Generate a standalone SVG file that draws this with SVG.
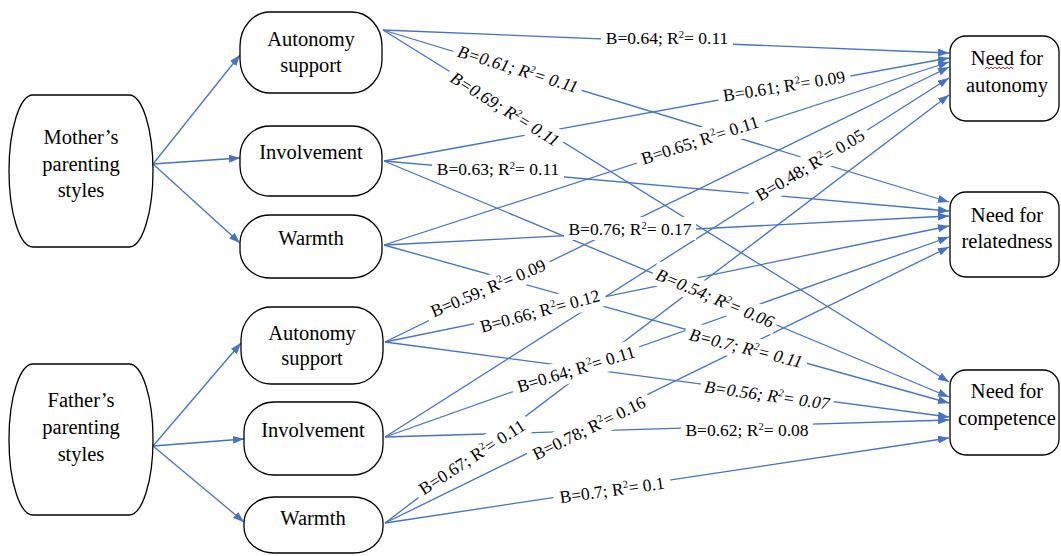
<svg xmlns="http://www.w3.org/2000/svg" width="1061" height="556" viewBox="0 0 1061 556">
<style>
.n{fill:#fff;stroke:#000;stroke-width:1.3}
.t{font-family:"Liberation Serif","Times New Roman",serif;font-size:20.5px;text-anchor:middle;fill:#000}
.c line{stroke:#4472C4;stroke-width:1.3;marker-end:url(#ah)}
.lb rect{fill:#fff}
.lb text{font-family:"Liberation Serif","Times New Roman",serif;font-size:17.5px;text-anchor:middle;fill:#000}
.lb text.it{font-style:italic}
.sq{fill:none;stroke:#e02020;stroke-width:1}
</style>
<defs>
<marker id="ah" markerUnits="userSpaceOnUse" markerWidth="11" markerHeight="8" refX="11" refY="4" orient="auto">
<path d="M0,0 L11,4 L0,8 z" fill="#4472C4"/>
</marker>
</defs>
<rect width="1061" height="556" fill="#fff"/>

<g class="c" id="connectors">
<line x1="153" y1="164" x2="240" y2="55"/>
<line x1="153" y1="164" x2="240" y2="158"/>
<line x1="153" y1="164" x2="240" y2="243"/>
<line x1="153" y1="446" x2="241" y2="343"/>
<line x1="153" y1="446" x2="244" y2="439"/>
<line x1="153" y1="446" x2="244" y2="522"/>

<line x1="383" y1="30" x2="949" y2="53"/>
<line x1="383" y1="30" x2="949" y2="202"/>
<line x1="383" y1="30" x2="949" y2="382"/>
<line x1="384" y1="161" x2="949" y2="58"/>
<line x1="384" y1="161" x2="949" y2="211"/>
<line x1="384" y1="161" x2="949" y2="397"/>
<line x1="384" y1="245" x2="949" y2="62"/>
<line x1="384" y1="245" x2="949" y2="216"/>
<line x1="384" y1="245" x2="949" y2="403"/>
<line x1="385" y1="342" x2="949" y2="67"/>
<line x1="385" y1="342" x2="949" y2="226"/>
<line x1="385" y1="342" x2="949" y2="417"/>
<line x1="385" y1="437" x2="949" y2="78"/>
<line x1="385" y1="437" x2="949" y2="237"/>
<line x1="385" y1="437" x2="949" y2="420"/>
<line x1="385" y1="523" x2="949" y2="95"/>
<line x1="385" y1="523" x2="949" y2="247"/>
<line x1="385" y1="523" x2="949" y2="438"/>
</g>

<g class="lb" id="labels">
<g transform="translate(667,38)"><rect x="-66" y="-12" width="132" height="23"/><text y="6">B=0.64; R<tspan dy="-6.5" font-size="10.5">2</tspan><tspan dy="6.5">= 0.11</tspan></text></g>
<g transform="translate(518,69) rotate(17)"><rect x="-67" y="-12" width="134" height="24"/><text class="it" y="6">B=0.61; R<tspan dy="-6.5" font-size="10.5">2</tspan><tspan dy="6.5">= 0.11</tspan></text></g>
<g transform="translate(505,109) rotate(32)"><rect x="-67" y="-12" width="134" height="24"/><text class="it" y="6">B=0.69; R<tspan dy="-6.5" font-size="10.5">2</tspan><tspan dy="6.5">= 0.11</tspan></text></g>
<g transform="translate(784,86) rotate(-9)"><rect x="-67" y="-12" width="134" height="24"/><text y="6">B=0.61; R<tspan dy="-6.5" font-size="10.5">2</tspan><tspan dy="6.5">= 0.09</tspan></text></g>
<g transform="translate(700,140) rotate(-18)"><rect x="-67" y="-12" width="134" height="24"/><text y="6">B=0.65; R<tspan dy="-6.5" font-size="10.5">2</tspan><tspan dy="6.5">= 0.11</tspan></text></g>
<g transform="translate(498,169)"><rect x="-66" y="-12" width="132" height="23"/><text y="6">B=0.63; R<tspan dy="-6.5" font-size="10.5">2</tspan><tspan dy="6.5">= 0.11</tspan></text></g>
<g transform="translate(630,229)"><rect x="-66" y="-12" width="132" height="23"/><text y="6">B=0.76; R<tspan dy="-6.5" font-size="10.5">2</tspan><tspan dy="6.5">= 0.17</tspan></text></g>
<g transform="translate(488,288) rotate(-23)"><rect x="-67" y="-12" width="134" height="24"/><text y="6">B=0.59; R<tspan dy="-6.5" font-size="10.5">2</tspan><tspan dy="6.5">= 0.09</tspan></text></g>
<g transform="translate(540,311) rotate(-15)"><rect x="-67" y="-12" width="134" height="24"/><text y="6">B=0.66; R<tspan dy="-6.5" font-size="10.5">2</tspan><tspan dy="6.5">= 0.12</tspan></text></g>
<g transform="translate(810,165) rotate(-31)"><rect x="-67" y="-12" width="134" height="24"/><text y="6">B=0.48; R<tspan dy="-6.5" font-size="10.5">2</tspan><tspan dy="6.5">= 0.05</tspan></text></g>
<g transform="translate(576,369) rotate(-17)"><rect x="-67" y="-12" width="134" height="24"/><text y="6">B=0.64; R<tspan dy="-6.5" font-size="10.5">2</tspan><tspan dy="6.5">= 0.11</tspan></text></g>
<g transform="translate(472,457) rotate(-33)"><rect x="-67" y="-12" width="134" height="24"/><text y="6">B=0.67; R<tspan dy="-6.5" font-size="10.5">2</tspan><tspan dy="6.5">= 0.11</tspan></text></g>
<g transform="translate(589,428) rotate(-26)"><rect x="-67" y="-12" width="134" height="24"/><text y="6">B=0.78; R<tspan dy="-6.5" font-size="10.5">2</tspan><tspan dy="6.5">= 0.16</tspan></text></g>
<g transform="translate(715,298) rotate(23)"><rect x="-67" y="-12" width="134" height="24"/><text class="it" y="6">B=0.54; R<tspan dy="-6.5" font-size="10.5">2</tspan><tspan dy="6.5">= 0.06</tspan></text></g>
<g transform="translate(746,348) rotate(14)"><rect x="-63" y="-12" width="126" height="24"/><text class="it" y="6">B=0.7; R<tspan dy="-6.5" font-size="10.5">2</tspan><tspan dy="6.5">= 0.11</tspan></text></g>
<g transform="translate(767,395) rotate(8)"><rect x="-67" y="-12" width="134" height="24"/><text class="it" y="6">B=0.56; R<tspan dy="-6.5" font-size="10.5">2</tspan><tspan dy="6.5">= 0.07</tspan></text></g>
<g transform="translate(747,430)"><rect x="-66" y="-12" width="132" height="23"/><text y="6">B=0.62; R<tspan dy="-6.5" font-size="10.5">2</tspan><tspan dy="6.5">= 0.08</tspan></text></g>
<g transform="translate(612,490) rotate(-8)"><rect x="-59" y="-12" width="118" height="24"/><text y="6">B=0.7; R<tspan dy="-6.5" font-size="10.5">2</tspan><tspan dy="6.5">= 0.1</tspan></text></g>
</g>

<g id="mother">
<rect class="n" x="9" y="95" width="144" height="152" rx="24" ry="76"/>
<text class="t" x="81" y="144">Mother’s</text>
<text class="t" x="81" y="171">parenting</text>
<text class="t" x="81" y="197">styles</text>
</g>
<g id="father">
<rect class="n" x="9" y="364" width="144" height="151" rx="24" ry="75"/>
<text class="t" x="81" y="407">Father’s</text>
<text class="t" x="81" y="434">parenting</text>
<text class="t" x="81" y="461">styles</text>
</g>

<g id="m-autonomy">
<rect class="n" x="240" y="12" width="142" height="81" rx="30" ry="34"/>
<text class="t" x="311" y="46">Autonomy</text>
<text class="t" x="311" y="72">support</text>
</g>
<g id="m-involvement">
<rect class="n" x="240" y="126" width="142" height="70" rx="30" ry="30"/>
<text class="t" x="311" y="159">Involvement</text>
</g>
<g id="m-warmth">
<rect class="n" x="240" y="215" width="142" height="63" rx="30" ry="28"/>
<text class="t" x="311" y="245">Warmth</text>
</g>

<g id="f-autonomy">
<rect class="n" x="241" y="307" width="142" height="77" rx="30" ry="33"/>
<text class="t" x="312" y="340">Autonomy</text>
<text class="t" x="312" y="365">support</text>
</g>
<g id="f-involvement">
<rect class="n" x="244" y="402" width="139" height="73" rx="30" ry="30"/>
<text class="t" x="313" y="437">Involvement</text>
</g>
<g id="f-warmth">
<rect class="n" x="244" y="497" width="139" height="56" rx="30" ry="26"/>
<text class="t" x="313" y="525">Warmth</text>
</g>

<g id="need-autonomy">
<rect class="n" x="950" y="36" width="109" height="85" rx="16" ry="16"/>
<text class="t" x="1007" y="65">Need for</text>
<text class="t" x="1007" y="92">autonomy</text>
<path class="sq" d="M985,69 l2,-2 l2,2 l2,-2 l2,2 l2,-2 l2,2 l2,-2 l2,2 l2,-2 l2,2 l2,-2 l2,2 l2,-2 l2,2"/>
</g>
<g id="need-relatedness">
<rect class="n" x="950" y="192" width="109" height="85" rx="16" ry="16"/>
<text class="t" x="1007" y="222">Need for</text>
<text class="t" x="1007" y="248">relatedness</text>
</g>
<g id="need-competence">
<rect class="n" x="950" y="370" width="109" height="85" rx="16" ry="16"/>
<text class="t" x="1007" y="398">Need for</text>
<text class="t" x="1007" y="425">competence</text>
</g>
</svg>
